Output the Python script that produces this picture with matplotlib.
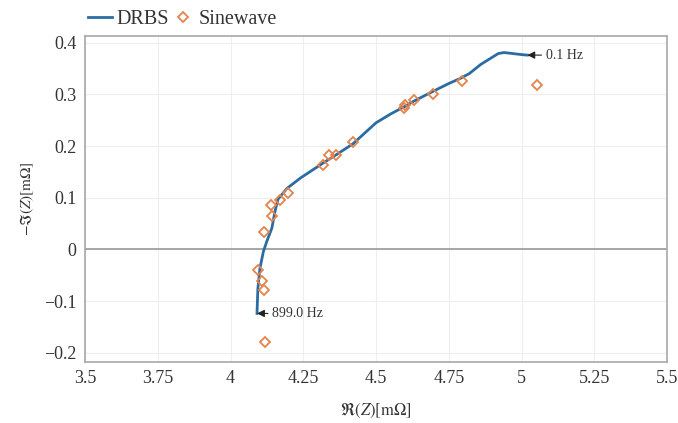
#!/usr/bin/env python3
"""Nyquist plot: DRBS impedance estimate vs sinewave measurements."""
import matplotlib
matplotlib.use("Agg")
import matplotlib.pyplot as plt
from matplotlib.ticker import FuncFormatter

plt.rcParams["font.family"] = ["Liberation Serif", "DejaVu Serif"]
plt.rcParams["mathtext.fontset"] = "stix"

# DRBS estimate (real / -imag, mOhm), from 899 Hz down to 0.1 Hz
drbs_re = [4.091, 4.094, 4.101, 4.113, 4.125, 4.142, 4.153, 4.163, 4.194, 4.24,
           4.318, 4.36, 4.42, 4.5, 4.55, 4.6, 4.63, 4.7, 4.75, 4.79,
           4.82, 4.86, 4.9, 4.92, 4.94, 4.97, 5.0, 5.02]
drbs_im = [-0.124, -0.076, -0.037, -0.004, 0.016, 0.041, 0.074, 0.097, 0.118, 0.138,
           0.167, 0.182, 0.204, 0.245, 0.262, 0.277, 0.287, 0.307, 0.321, 0.331,
           0.340, 0.358, 0.372, 0.379, 0.381, 0.379, 0.377, 0.376]

# Sinewave measurements
sine_re = [5.053, 4.795, 4.696, 4.63, 4.596, 4.60, 4.42, 4.363, 4.34, 4.318,
           4.198, 4.17, 4.14, 4.143, 4.115, 4.095, 4.108, 4.115, 4.118]
sine_im = [0.318, 0.326, 0.300, 0.289, 0.273, 0.279, 0.207, 0.182, 0.182, 0.163,
           0.109, 0.095, 0.085, 0.064, 0.033, -0.039, -0.062, -0.078, -0.180]

xticks = [3.5, 3.75, 4, 4.25, 4.5, 4.75, 5, 5.25, 5.5]
yticks = [-0.2, -0.1, 0, 0.1, 0.2, 0.3, 0.4]

fig = plt.figure(figsize=(6.78, 4.23), dpi=100)
ax = fig.add_axes([0.1254, 0.1442, 0.8584, 0.7707])

ax.axhline(0, color="#a0a0a0", lw=1.3, zorder=1)
ax.plot(drbs_re, drbs_im, color="#2b6ca3", lw=2.0, label="DRBS", zorder=3)
ax.plot(sine_re, sine_im, ls="none", marker="D", ms=5.3, mfc="none", mec="#e5834b",
        mew=1.3, label="Sinewave", zorder=4)

arrow = dict(arrowstyle="-|>", color="#222222", lw=0.8, shrinkA=1, shrinkB=0,
             mutation_scale=11)
ax.annotate("0.1 Hz", xy=(drbs_re[-1], drbs_im[-1]), xytext=(5.083, drbs_im[-1]),
            va="center", fontsize=10, color="#333333", arrowprops=arrow)
ax.annotate("899.0 Hz", xy=(drbs_re[0], drbs_im[0]), xytext=(4.143, drbs_im[0]),
            va="center", fontsize=10, color="#333333", arrowprops=arrow)

ax.set_xlim(3.5, 5.5)
ax.set_ylim(-0.218, 0.413)
ax.set_xticks(xticks)
ax.set_yticks(yticks)
ax.xaxis.set_major_formatter(FuncFormatter(lambda v, p: f"{v:g}"))
ax.yaxis.set_major_formatter(FuncFormatter(lambda v, p: f"{v:g}".replace("-", "\u2212")))
ax.tick_params(length=0, labelsize=13, labelcolor="#333333", pad=6)
ax.grid(True, color="#eeeeee", lw=0.8)
ax.set_axisbelow(True)
for s in ax.spines.values():
    s.set_color("#a8a8a8")
    s.set_linewidth(1.2)

ax.set_xlabel(r"$\Re(Z)[\mathrm{m}\Omega]$", fontsize=12, color="#333333", labelpad=10)
ax.set_ylabel(r"$-\Im(Z)[\mathrm{m}\Omega]$", fontsize=11, color="#333333", labelpad=6)

ax.legend(loc="lower left", bbox_to_anchor=(-0.012, 0.99), ncol=2, frameon=False,
          fontsize=14.5, handlelength=1.2, handletextpad=0.2, columnspacing=0.1,
          borderaxespad=0.1, labelcolor="#333333")

fig.savefig("out.png", dpi=100)
print("Saved out.png")
